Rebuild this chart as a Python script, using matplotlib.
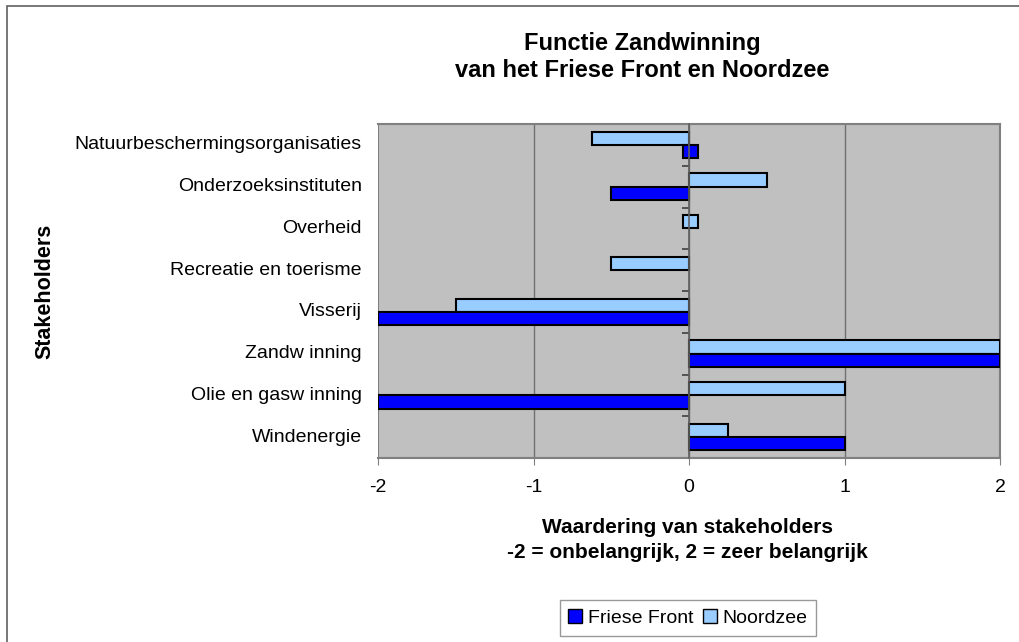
import matplotlib.pyplot as plt
import matplotlib.patches as mpatches
from matplotlib.transforms import blended_transform_factory
import numpy as np

plt.rcParams['font.family'] = ['Liberation Sans', 'DejaVu Sans']

# categories, top to bottom as in the chart
stakeholders = ['Natuurbeschermingsorganisaties', 'Onderzoeksinstituten', 'Overheid',
                'Recreatie en toerisme', 'Visserij', 'Zandw inning',
                'Olie en gasw inning', 'Windenergie']
friese_front = [0, -0.5, np.nan, np.nan, -2, 2, -2, 1]
noordzee = [-0.625, 0.5, 0, -0.5, -1.5, 2, 1, 0.25]
xticks = [-2, -1, 0, 1, 2]

dark = '#0000FF'
light = '#99CCFF'

fig = plt.figure(figsize=(10.19, 6.42), dpi=100)
ax = fig.add_axes([378/1019, 1 - 458/642, 622/1019, 334/642])
ax.set_facecolor('#C0C0C0')

n = len(stakeholders)
pos = np.arange(n)[::-1]  # top category gets highest y
h = 0.32


def draw(vals, offset, color):
    for p, v in zip(pos, vals):
        if np.isnan(v):
            continue
        if v == 0:
            # Excel shows a zero value as a small box on the axis
            ax.barh(p + offset, 0.1, left=-0.04, height=h, color=color,
                    edgecolor='black', linewidth=1.5, zorder=3)
        else:
            ax.barh(p + offset, v, height=h, color=color,
                    edgecolor='black', linewidth=1.5, zorder=3)


draw(noordzee, h / 2, light)
draw(friese_front, -h / 2, dark)

ax.set_xlim(-2, 2)
ax.set_ylim(-0.5, n - 0.5)
ax.set_xticks(xticks)
ax.set_xticklabels([str(t) for t in xticks], fontsize=14)
ax.tick_params(axis='x', length=5, color='#808080', pad=10)
for x in xticks[1:-1]:
    ax.axvline(x, color='#707070', lw=1, zorder=1)

# category axis sits at x = 0, ticks at group boundaries
ax.spines['left'].set_position(('data', 0))
ax.spines['left'].set_color('#606060')
ax.spines['left'].set_linewidth(1.2)
ax.spines['left'].set_zorder(4)
ax.set_yticks(np.arange(n + 1) - 0.5)
ax.set_yticklabels([])
ax.tick_params(axis='y', length=5, width=1.2, color='#404040')
for s in ['top', 'right', 'bottom']:
    ax.spines[s].set_color('#808080')
    ax.spines[s].set_linewidth(1.5)
ax.add_patch(mpatches.Rectangle((0, 0), 1, 1, transform=ax.transAxes, fill=False,
                                edgecolor='#808080', lw=1.5, zorder=2))

tr = blended_transform_factory(ax.transAxes, ax.transData)
for p, name in zip(pos, stakeholders):
    ax.text(-16/622, p, name, transform=tr, ha='right', va='center', fontsize=14)

fig.text(642/1019, 1 - 57/642, 'Functie Zandwinning\nvan het Friese Front en Noordzee',
         ha='center', va='center', fontsize=17, fontweight='bold', linespacing=1.25)
fig.text(687/1019, 1 - 540/642, 'Waardering van stakeholders\n-2 = onbelangrijk, 2 = zeer belangrijk',
         ha='center', va='center', fontsize=15, fontweight='bold', linespacing=1.4)
fig.text(45/1019, 1 - 291/642, 'Stakeholders', rotation=90, ha='center', va='center',
         fontsize=15.5, fontweight='bold')

handles = [mpatches.Patch(facecolor=dark, edgecolor='black', label='Friese Front'),
           mpatches.Patch(facecolor=light, edgecolor='black', label='Noordzee')]
leg = fig.legend(handles=handles, loc='center', bbox_to_anchor=(688/1019, 1 - 618/642),
                 ncol=2, fontsize=14, frameon=True, fancybox=False, handlelength=0.7,
                 handleheight=0.7, handletextpad=0.3, columnspacing=0.5, borderpad=0.45)
leg.get_frame().set_edgecolor('#808080')

# chart area border (left/top edges visible)
fig.add_artist(mpatches.Rectangle((7/1019, -0.1), 1.2, 1 - 6/642 + 0.1,
                                  transform=fig.transFigure, fill=False,
                                  edgecolor='#606060', lw=1.2))

fig.savefig('out.png', dpi=100)
